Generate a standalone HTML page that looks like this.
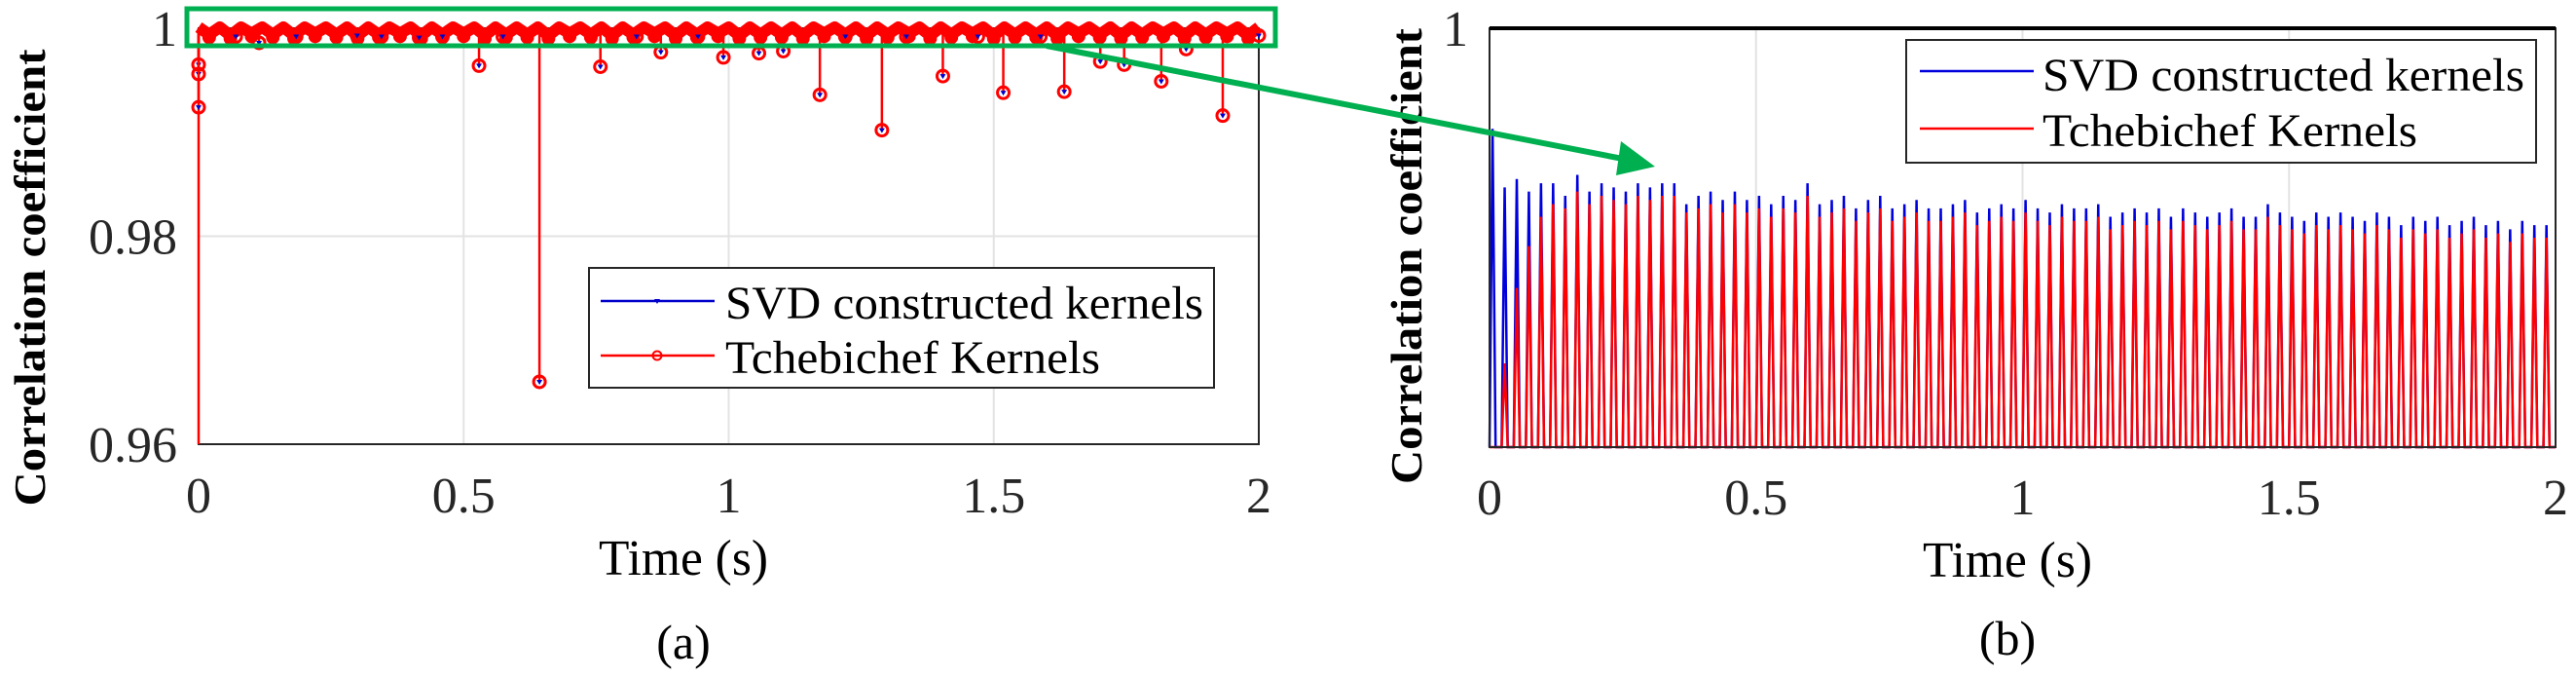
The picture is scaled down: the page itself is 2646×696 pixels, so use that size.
<!DOCTYPE html>
<html><head><meta charset="utf-8">
<style>
html,body{margin:0;padding:0;background:#fff;}
svg{display:block;font-family:"Liberation Serif",serif;}
</style></head>
<body>
<svg id="fig" width="2646" height="696" viewBox="0 0 2646 696" xmlns="http://www.w3.org/2000/svg">
<g id="pa"></g>
<g id="pb"></g>
</svg>
<script>
// ---- Panel (a) data ----
const aTicksX = [0, 0.5, 1, 1.5, 2];
const aTickLabelsX = ["0", "0.5", "1", "1.5", "2"];
const aTicksY = [0.96, 0.98, 1];
const aTickLabelsY = ["0.96", "0.98", "1"];
const aCombVals = [0.9994,0.9993,0.9995,0.9994,0.9993,0.9995,0.9994,0.9993,0.9994,0.9995,0.9993,0.9994,0.9995,0.9993,0.9994,0.9994,0.9993,0.9995,0.9994,0.9993,0.9994,0.9995,0.9993,0.9994,0.9995,0.9993,0.9994,0.9994,0.9993,0.9995,0.9994,0.9993,0.9994,0.9995,0.9993,0.9994,0.9995,0.9993,0.9994,0.9994,0.9993,0.9995,0.9994,0.9993,0.9994,0.9995,0.9993,0.9994,0.9995,0.9993];
const aDipTimes = [0.0,0.0,0.0,0.07,0.114,0.184,0.299,0.345,0.416,0.46,0.529,0.574,0.643,0.758,0.826,0.872,0.942,0.99,1.057,1.103,1.172,1.22,1.289,1.335,1.404,1.47,1.518,1.588,1.633,1.701,1.746,1.816,1.863,1.932,2.0];
const aDipVals  = [0.9965,0.9956,0.9924,0.9992,0.9986,0.9992,0.9993,0.9992,0.9991,0.9992,0.9964,0.9992,0.966,0.9963,0.9992,0.9977,0.9992,0.9972,0.9976,0.9978,0.9936,0.9992,0.9902,0.9992,0.9954,0.9992,0.9938,0.9992,0.9939,0.9968,0.9965,0.9949,0.998,0.9916,0.9993];

// ---- Panel (b) data ----
const bTicksX = [0, 0.5, 1, 1.5, 2];
const bTickLabelsX = ["0", "0.5", "1", "1.5", "2"];
const bBluePeaks = [0.76,0.62,0.64,0.61,0.63,0.63,0.60,0.65,0.61,0.63,0.62,0.61,0.63,0.62,0.63,0.63,0.58,0.60,0.61,0.59,0.61,0.59,0.60,0.58,0.60,0.59,0.63,0.58,0.59,0.60,0.57,0.59,0.60,0.57,0.58,0.59,0.57,0.57,0.58,0.59,0.56,0.57,0.58,0.57,0.59,0.57,0.56,0.58,0.57,0.57,0.58,0.55,0.56,0.57,0.56,0.57,0.55,0.57,0.56,0.55,0.56,0.57,0.55,0.55,0.58,0.56,0.55,0.54,0.56,0.55,0.56,0.55,0.54,0.56,0.55,0.53,0.55,0.54,0.55,0.53,0.54,0.55,0.53,0.54,0.52,0.54,0.53,0.53];
const bRedPeaks = [0.00,0.20,0.38,0.48,0.55,0.58,0.57,0.61,0.58,0.60,0.59,0.58,0.60,0.59,0.60,0.60,0.56,0.57,0.58,0.56,0.58,0.56,0.57,0.55,0.57,0.56,0.60,0.55,0.56,0.57,0.54,0.56,0.57,0.54,0.55,0.56,0.54,0.54,0.55,0.56,0.53,0.54,0.55,0.54,0.56,0.54,0.53,0.55,0.54,0.54,0.55,0.52,0.53,0.54,0.53,0.54,0.52,0.54,0.53,0.52,0.53,0.54,0.52,0.52,0.55,0.53,0.52,0.51,0.53,0.52,0.53,0.52,0.51,0.53,0.52,0.50,0.52,0.51,0.52,0.50,0.51,0.52,0.50,0.51,0.49,0.51,0.50,0.50];

const NS="http://www.w3.org/2000/svg";
function el(parent,tag,attrs,text){const e=document.createElementNS(NS,tag);for(const k in attrs)e.setAttribute(k,attrs[k]);if(text!==undefined)e.textContent=text;parent.appendChild(e);return e;}

// ---------- Panel A ----------
(function(){
const g=document.getElementById('pa');
const L=204,R=1293,T=29,B=456;
const x=t=>L+(t/2)*(R-L);
const y=v=>B-(v-0.96)/0.04*(B-T);
aTicksX.forEach((t,i)=>{const l=el(g,'line',{x1:x(t),x2:x(t),y1:T,y2:B,stroke:'#e3e3e3','stroke-width':2});
});
aTicksY.forEach(v=>{const l=el(g,'line',{x1:L,x2:R,y1:y(v),y2:y(v),stroke:'#e3e3e3','stroke-width':2});
});
const box=el(g,'rect',{x:L,y:T,width:R-L,height:B-T,fill:'none',stroke:'#262626','stroke-width':2});

aTicksX.forEach((t,i)=>{const e=el(g,'text',{x:x(t),y:526,'text-anchor':'middle','font-size':52,fill:'#262626'},aTickLabelsX[i]);
});
aTicksY.forEach((v,i)=>{const e=el(g,'text',{x:182,y:y(v)+18,'text-anchor':'end','font-size':52,fill:'#262626'},aTickLabelsY[i]);
});
const n=aCombVals.length;let pts=[];
for(let i=0;i<n;i++){const t0=i*2/n, t1=(i+0.5)*2/n;pts.push(x(t0)+','+y(1.0001));pts.push(x(t1)+','+y(aCombVals[i]));}
pts.push(x(2)+','+y(1.0001));
const band=el(g,'polyline',{points:pts.join(' '),fill:'none',stroke:'#ff0000','stroke-width':12,'stroke-linejoin':'round'});

for(let i=0;i<n;i++){const c=el(g,'circle',{cx:x((i+0.5)*2/n),cy:y(aCombVals[i])+3,r:7,fill:'#ff0000'});
}
const d0=el(g,'line',{x1:x(0),x2:x(0),y1:y(1),y2:B,stroke:'#ff0000','stroke-width':2.5});

aDipTimes.forEach((t,i)=>{const v=aDipVals[i];
const s=el(g,'line',{x1:x(t),x2:x(t),y1:y(0.9995),y2:y(v),stroke:'#ff0000','stroke-width':2.5});

const c=el(g,'circle',{cx:x(t),cy:y(v),r:6,fill:'none',stroke:'#ff0000','stroke-width':3});

const b=el(g,'path',{d:`M${x(t)-3},${y(v)-2} L${x(t)+3},${y(v)-2} L${x(t)},${y(v)+3} Z`,fill:'#0000cc'});
});
const lg=el(g,'g',{});
el(lg,'rect',{x:605,y:275,width:642,height:123,fill:'#fff',stroke:'#262626','stroke-width':2});
const l1=el(lg,'line',{x1:617,x2:734,y1:309,y2:309,stroke:'#0000cc','stroke-width':2.5});

el(lg,'path',{d:'M672,307 L678,307 L675,312 Z',fill:'#0000cc'});
const t1=el(lg,'text',{x:745,y:327,'font-size':48,textLength:491,lengthAdjust:'spacingAndGlyphs',fill:'#000'},'SVD constructed kernels');

const l2=el(lg,'line',{x1:617,x2:734,y1:365,y2:365,stroke:'#ff0000','stroke-width':2.5});

el(lg,'circle',{cx:675,cy:365,r:4.5,fill:'none',stroke:'#ff0000','stroke-width':2});
const t2=el(lg,'text',{x:745,y:383,'font-size':48,textLength:385,lengthAdjust:'spacingAndGlyphs',fill:'#000'},'Tchebichef Kernels');

const xt=el(g,'text',{x:702,y:590,'text-anchor':'middle','font-size':52,textLength:174,lengthAdjust:'spacingAndGlyphs'},'Time (s)');

const yt=el(g,'text',{transform:'translate(46,285) rotate(-90)','text-anchor':'middle','font-size':46,'font-weight':'bold',textLength:469,lengthAdjust:'spacingAndGlyphs'},'Correlation coefficient');

const cap=el(g,'text',{x:702,y:676,'text-anchor':'middle','font-size':50},'(a)');

const zb=el(g,'rect',{x:192,y:9,width:1118,height:38,fill:'none',stroke:'#00b050','stroke-width':5});

})();

// ---------- Panel B ----------
(function(){
const g=document.getElementById('pb');
const L=1530,R=2625,T=29,B=459;
const x=t=>L+(t/2)*(R-L);
const y=v=>B-v*(B-T);
bTicksX.forEach(t=>{const l=el(g,'line',{x1:x(t),x2:x(t),y1:T,y2:B,stroke:'#e3e3e3','stroke-width':2});
});
function spikes(peaks,offset,color,name,w){
const n=peaks.length,p=2/n;let pts=[x(0)+','+y(0)];
for(let i=0;i<n;i++){const t0=i*p+offset;
pts.push(x(t0)+','+y(0));pts.push(x(t0+p*0.25)+','+y(peaks[i]));pts.push(x(t0+p*0.5)+','+y(0));}
pts.push(x(2)+','+y(0));
const pl=el(g,'polyline',{points:pts.join(' '),fill:'none',stroke:color,'stroke-width':w});
}
spikes(bBluePeaks,0.0,'#0000dd','svd-series-b',2.5);
spikes(bRedPeaks,0.0,'#ff0000','tchebichef-series-b',2.5);
const box=el(g,'rect',{x:L,y:T,width:R-L,height:B-T,fill:'none',stroke:'#262626','stroke-width':2});

const top=el(g,'line',{x1:L,x2:R,y1:T,y2:T,stroke:'#000','stroke-width':4});

bTicksX.forEach((t,i)=>{const e=el(g,'text',{x:x(t),y:528,'text-anchor':'middle','font-size':52,fill:'#262626'},bTickLabelsX[i]);
});
const y1=el(g,'text',{x:1508,y:47,'text-anchor':'end','font-size':52,fill:'#262626'},'1');

const lg=el(g,'g',{});
el(lg,'rect',{x:1958,y:41,width:647,height:126,fill:'#fff',stroke:'#262626','stroke-width':2});
const l1=el(lg,'line',{x1:1972,x2:2089,y1:73,y2:73,stroke:'#0000dd','stroke-width':2.5});

const t1=el(lg,'text',{x:2098,y:93,'font-size':48,textLength:495,lengthAdjust:'spacingAndGlyphs'},'SVD constructed kernels');

const l2=el(lg,'line',{x1:1972,x2:2089,y1:132,y2:132,stroke:'#ff0000','stroke-width':2.5});

const t2=el(lg,'text',{x:2098,y:150,'font-size':48,textLength:385,lengthAdjust:'spacingAndGlyphs'},'Tchebichef Kernels');

const xt=el(g,'text',{x:2062,y:592,'text-anchor':'middle','font-size':52,textLength:174,lengthAdjust:'spacingAndGlyphs'},'Time (s)');

const yt=el(g,'text',{transform:'translate(1460,263) rotate(-90)','text-anchor':'middle','font-size':46,'font-weight':'bold',textLength:468,lengthAdjust:'spacingAndGlyphs'},'Correlation coefficient');

const cap=el(g,'text',{x:2062,y:672,'text-anchor':'middle','font-size':50},'(b)');

})();

// ---------- Arrow ----------
(function(){
const s=document.getElementById('fig');
const a=el(s,'line',{x1:1075,y1:47,x2:1672,y2:164,stroke:'#00b050','stroke-width':6});

const h=el(s,'path',{d:'M1700,171 L1665,145 L1660,180 Z',fill:'#00b050'});

})();
</script>
</body></html>
